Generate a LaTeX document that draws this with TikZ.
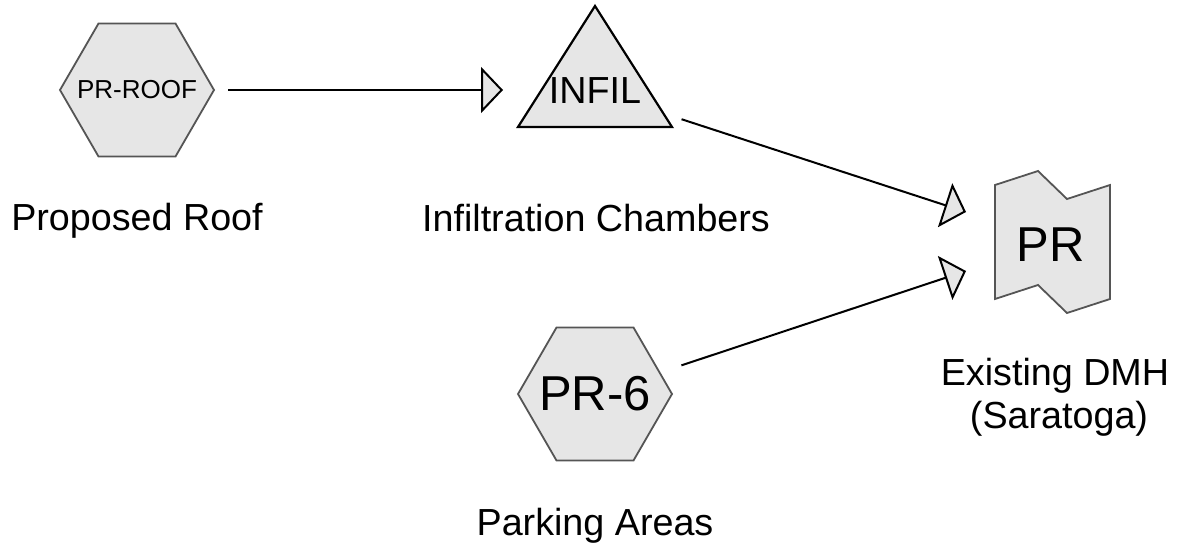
\documentclass[tikz,border=0pt]{standalone}
\usepackage{fontspec}
\setmainfont{Liberation Sans}
\usetikzlibrary{arrows.meta}
\definecolor{shapefill}{HTML}{E6E6E6}
\definecolor{shapeedge}{HTML}{555555}
\begin{document}
\begin{tikzpicture}[x=1pt,y=-1pt,
  shapeline/.style={draw=shapeedge, line width=1.8pt, fill=shapefill},
  triline/.style={draw=black, line width=2.2pt, fill=shapefill},
  txt/.style={inner sep=0pt},
  lbl/.style={font=\fontsize{37.7}{43}\selectfont, inner sep=0pt, anchor=base, align=center},
  conn/.style={line width=2pt, -{Triangle[length=22pt,width=46pt,fill=shapefill]}}
]
\useasboundingbox (0,0) rectangle (1177,548);

% Proposed Roof
\draw[shapeline] (60,90) -- (98.5,23.5) -- (175.5,23.5) -- (214,90)
  -- (175.5,156.5) -- (98.5,156.5) -- cycle;
\node[txt, font=\fontsize{26}{30}\selectfont] (roof) at (137,90) {PR-ROOF};
\node[lbl] (lroof) at (137,230) {Proposed Roof};

% Infiltration Chambers
\coordinate (tApex) at (595,6);
\coordinate (tRight) at (672,127);
\coordinate (tLeft) at (518,127);
\draw[triline] (tApex) -- (tRight) -- (tLeft) -- cycle;
\node[txt, font=\fontsize{37.7}{43}\selectfont] (infil) at (595,91) {INFIL};
\node[lbl] (linfil) at (596,231) {Infiltration Chambers};

% Parking Areas
\draw[shapeline] (518,394) -- (556.5,327.5) -- (633.5,327.5) -- (672,394)
  -- (633.5,460.5) -- (556.5,460.5) -- cycle;
\node[txt, font=\fontsize{49}{56}\selectfont] (pr6) at (595,394) {PR-6};
\node[lbl] (lpr6) at (595,535) {Parking Areas};

% Existing DMH
\draw[shapeline] (995,185) -- (1038,171) -- (1067,199) -- (1110,185)
  -- (1110,299) -- (1067,313) -- (1038,285) -- (995,299) -- cycle;
\node[txt, font=\fontsize{49}{56}\selectfont] (pr) at (1051,245) {PR};
\node[lbl] (lpr) at (1055,428) {Existing DMH\\\hspace*{8pt}(Saratoga)};

% ports
\coordinate (pin1) at (966,212);
\coordinate (pin2) at (966,271);

% connectors
\draw[conn, shorten <=91pt, shorten >=15pt] (roof.center) -- (roof.center -| tLeft);
\draw[conn, shorten <=91pt] (infil.center) -- (pin1);
\draw[conn, shorten <=91pt] (pr6.center) -- (pin2);
\end{tikzpicture}
\end{document}
